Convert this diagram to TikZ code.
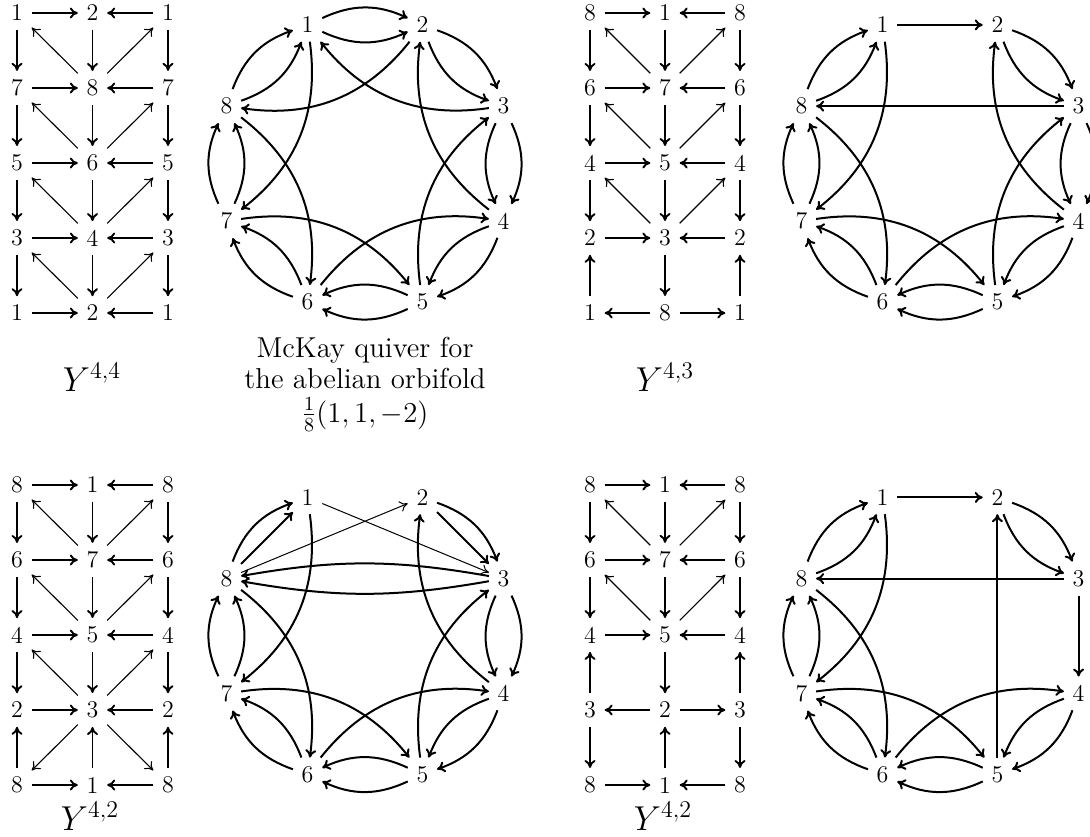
\documentclass[tikz,border=0pt]{standalone}
\usepackage{fontspec}
\usetikzlibrary{arrows.meta}
\begin{document}
\begin{tikzpicture}[x=0.5pt,y=0.5pt,
  lab/.style={inner sep=4.2pt,font=\fontsize{12}{14}\selectfont},
  arr/.style={line width=1pt,-{Computer Modern Rightarrow[length=4pt,width=5.5pt]}},
  garr/.style={arr,line width=0.95pt},
  darr/.style={arr,line width=0.55pt},
  tarr/.style={arr,line width=0.5pt},
  caption/.style={anchor=base,inner sep=0pt,font=\Large},
  ylab/.style={anchor=base,inner sep=0pt,font=\LARGE},
  rimout/.style={bend left=25},
  rimin/.style={bend right=25},
  chord/.style={bend left=30}]
\useasboundingbox (0,0) rectangle (1090,-836);
\clip (0,0) rectangle (1090,-836);

% ---------- grid nodes ----------
\foreach \r/\a/\b/\c in {0/1/2/1,1/7/8/7,2/5/6/5,3/3/4/3,4/1/2/1}{
  \node[lab] (P-\r-0) at (17,{-13-75*\r}) {\a};
  \node[lab] (P-\r-1) at (92.5,{-13-75*\r}) {\b};
  \node[lab] (P-\r-2) at (168,{-13-75*\r}) {\c};}
\foreach \r/\a/\b/\c in {0/8/1/8,1/6/7/6,2/4/5/4,3/2/3/2,4/1/8/1}{
  \node[lab] (Q-\r-0) at (590,{-13-75*\r}) {\a};
  \node[lab] (Q-\r-1) at (665,{-13-75*\r}) {\b};
  \node[lab] (Q-\r-2) at (740,{-13-75*\r}) {\c};}
\foreach \r/\a/\b/\c in {0/8/1/8,1/6/7/6,2/4/5/4,3/2/3/2,4/8/1/8}{
  \node[lab] (R-\r-0) at (17,{-485-75*\r}) {\a};
  \node[lab] (R-\r-1) at (92.5,{-485-75*\r}) {\b};
  \node[lab] (R-\r-2) at (168,{-485-75*\r}) {\c};}
\foreach \r/\a/\b/\c in {0/8/1/8,1/6/7/6,2/4/5/4,3/3/2/3,4/8/1/8}{
  \node[lab] (S-\r-0) at (590,{-485-75*\r}) {\a};
  \node[lab] (S-\r-1) at (665,{-485-75*\r}) {\b};
  \node[lab] (S-\r-2) at (740,{-485-75*\r}) {\c};}

% ---------- grid P : Y^{4,4} ----------
\foreach \r in {0,...,4}{\draw[garr] (P-\r-0)--(P-\r-1); \draw[garr] (P-\r-2)--(P-\r-1);}
\foreach \r [count=\s from 1] in {0,...,3}{
  \foreach \c in {0,1,2}{\draw[garr] (P-\r-\c)--(P-\s-\c);}
  \draw[darr] (P-\s-1)--(P-\r-0); \draw[darr] (P-\s-1)--(P-\r-2);}

% ---------- grid Q : Y^{4,3} ----------
\foreach \r in {0,...,3}{\draw[garr] (Q-\r-0)--(Q-\r-1); \draw[garr] (Q-\r-2)--(Q-\r-1);}
\draw[garr] (Q-4-1)--(Q-4-0); \draw[garr] (Q-4-1)--(Q-4-2);
\foreach \r [count=\s from 1] in {0,...,2}{
  \foreach \c in {0,1,2}{\draw[garr] (Q-\r-\c)--(Q-\s-\c);}
  \draw[darr] (Q-\s-1)--(Q-\r-0); \draw[darr] (Q-\s-1)--(Q-\r-2);}
\draw[garr] (Q-4-0)--(Q-3-0); \draw[garr] (Q-3-1)--(Q-4-1); \draw[garr] (Q-4-2)--(Q-3-2);

% ---------- grid R : Y^{4,2} ----------
\foreach \r in {0,...,4}{\draw[garr] (R-\r-0)--(R-\r-1); \draw[garr] (R-\r-2)--(R-\r-1);}
\foreach \r [count=\s from 1] in {0,...,2}{
  \foreach \c in {0,1,2}{\draw[garr] (R-\r-\c)--(R-\s-\c);}
  \draw[darr] (R-\s-1)--(R-\r-0); \draw[darr] (R-\s-1)--(R-\r-2);}
\foreach \c in {0,1,2}{\draw[garr] (R-4-\c)--(R-3-\c);}
\draw[darr] (R-3-1)--(R-4-0); \draw[darr] (R-3-1)--(R-4-2);

% ---------- grid S : Y^{4,2} ----------
\foreach \r in {0,1,2,4}{\draw[garr] (S-\r-0)--(S-\r-1); \draw[garr] (S-\r-2)--(S-\r-1);}
\draw[garr] (S-3-1)--(S-3-0); \draw[garr] (S-3-1)--(S-3-2);
\foreach \r [count=\s from 1] in {0,1}{
  \foreach \c in {0,1,2}{\draw[garr] (S-\r-\c)--(S-\s-\c);}
  \draw[darr] (S-\s-1)--(S-\r-0); \draw[darr] (S-\s-1)--(S-\r-2);}
\draw[garr] (S-3-0)--(S-2-0); \draw[garr] (S-2-1)--(S-3-1); \draw[garr] (S-3-2)--(S-2-2);
\draw[garr] (S-3-0)--(S-4-0); \draw[garr] (S-4-1)--(S-3-1); \draw[garr] (S-3-2)--(S-4-2);

% ---------- circle nodes ----------
\foreach \i in {1,...,8}{
  \pgfmathsetmacro\ang{112.5-45*(\i-1)}
  \node[lab] (A\i) at ({365+150*cos(\ang)},{-163.5+150*sin(\ang)}) {\i};
  \node[lab] (B\i) at ({940+150*cos(\ang)},{-163.5+150*sin(\ang)}) {\i};
  \node[lab] (C\i) at ({365+150*cos(\ang)},{-636+150*sin(\ang)}) {\i};
  \node[lab] (D\i) at ({940+150*cos(\ang)},{-636+150*sin(\ang)}) {\i};}

% circle A : McKay quiver
\foreach \i/\j in {1/2,2/3,3/4,4/5,5/6,6/7,7/8,8/1}{
  \draw[arr] (A\i) to[rimout] (A\j); \draw[arr] (A\i) to[rimin] (A\j);}
\foreach \i/\j in {3/1,2/8,1/7,8/6,7/5,6/4,5/3,4/2}{\draw[arr] (A\i) to[chord] (A\j);}

% circle B : Y^{4,3}
\foreach \i/\j in {2/3,3/4,4/5,5/6,6/7,7/8,8/1}{
  \draw[arr] (B\i) to[rimout] (B\j); \draw[arr] (B\i) to[rimin] (B\j);}
\draw[arr] (B1)--(B2); \draw[arr] (B3)--(B8);
\foreach \i/\j in {1/7,8/6,7/5,6/4,5/3,4/2}{\draw[arr] (B\i) to[chord] (B\j);}

% circle C : Y^{4,2}
\foreach \i/\j in {3/4,4/5,5/6,6/7,7/8}{
  \draw[arr] (C\i) to[rimout] (C\j); \draw[arr] (C\i) to[rimin] (C\j);}
\draw[arr] (C8) to[rimout] (C1); \draw[arr] (C8)--(C1);
\draw[arr] (C2) to[rimout] (C3); \draw[arr] (C2)--(C3);
\draw[tarr] (C8)--(C2); \draw[tarr] (C1)--(C3);
\draw[arr] (C3) to[bend left=10] (C8); \draw[arr] (C3) to[bend right=10] (C8);
\foreach \i/\j in {1/7,8/6,7/5,6/4,5/3,4/2}{\draw[arr] (C\i) to[chord] (C\j);}

% circle D : Y^{4,2}
\foreach \i/\j in {2/3,4/5,5/6,6/7,7/8,8/1}{
  \draw[arr] (D\i) to[rimout] (D\j); \draw[arr] (D\i) to[rimin] (D\j);}
\draw[arr] (D1)--(D2); \draw[arr] (D3)--(D8); \draw[arr] (D3)--(D4); \draw[arr] (D5)--(D2);
\foreach \i/\j in {1/7,8/6,7/5,6/4}{\draw[arr] (D\i) to[chord] (D\j);}

% ---------- labels ----------
\node[ylab] (yA) at (92,-391) {$Y^{4,4}$};
\node[ylab] (yB) at (665,-391) {$Y^{4,3}$};
\node[ylab] (yC) at (90,-830) {$Y^{4,2}$};
\node[ylab] (yD) at (663,-830) {$Y^{4,2}$};
\node[caption] (cap1) at (365,-357) {McKay quiver for};
\node[caption] (cap2) at (365,-388) {the abelian orbifold};
\node[caption] (cap3) at (365,-422) {$\frac{1}{8}(1,1,-2)$};
\end{tikzpicture}
\end{document}
